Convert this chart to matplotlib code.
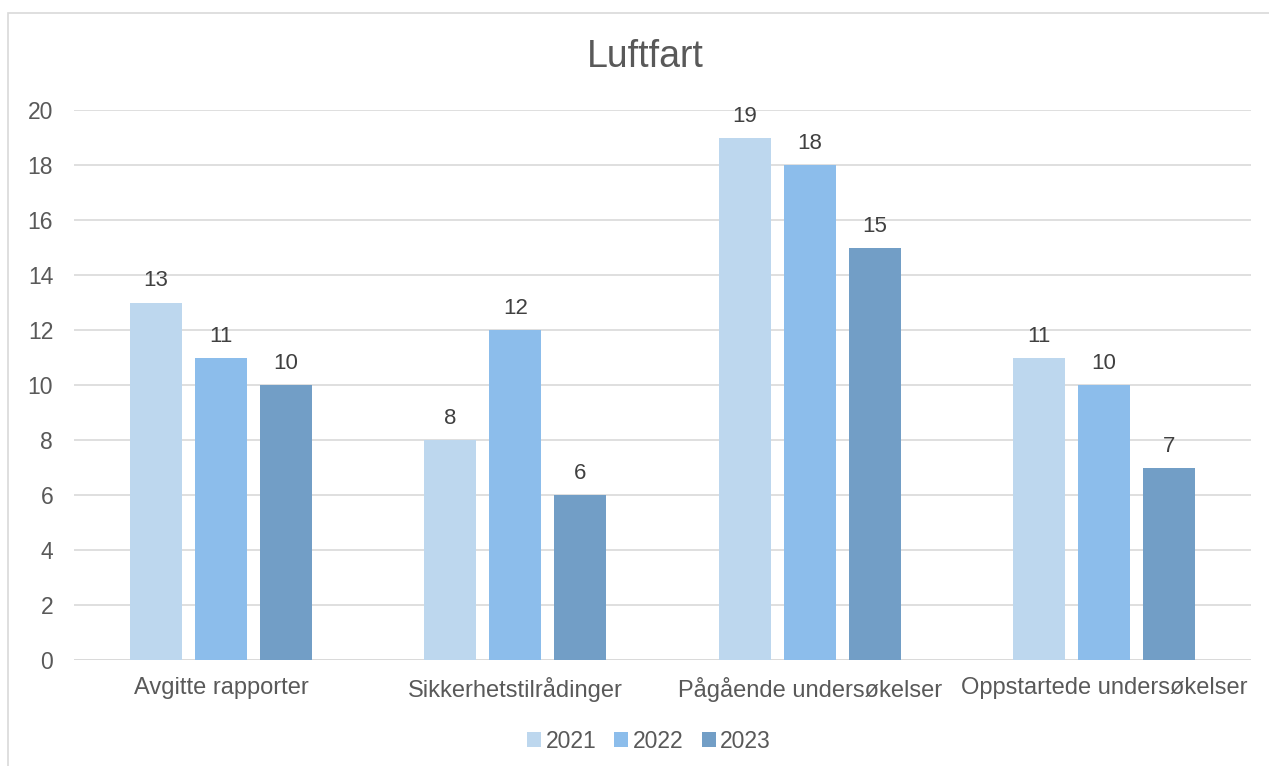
import numpy as np
import matplotlib.pyplot as plt
from matplotlib.patches import Rectangle

plt.rcParams['font.family'] = ['Liberation Sans', 'DejaVu Sans']

categories = ['Avgitte rapporter', 'Sikkerhetstilrådinger', 'Pågående undersøkelser', 'Oppstartede undersøkelser']
years = ['2021', '2022', '2023']
values = {
    '2021': [13, 8, 19, 11],
    '2022': [11, 12, 18, 10],
    '2023': [10, 6, 15, 7],
}
colors = ['#BDD7EE', '#8CBDEB', '#729EC6']

fig = plt.figure(figsize=(12.69, 7.66), dpi=100)
# outer chart border
fig.patches.append(Rectangle((8/1269, -0.01), 1.02, 1 - 13/766 + 0.01, transform=fig.transFigure,
                             fill=False, edgecolor='#D9D9D9', linewidth=1.2))
ax = fig.add_axes([74/1269, 1 - 660/766, (1251-74)/1269, 550/766])

x = np.arange(len(categories))
width = 0.177
step = 0.221
for i, yr in enumerate(years):
    pos = x + (i - 1) * step
    bars = ax.bar(pos, values[yr], width=width, color=colors[i], label=yr, zorder=3)
    for b, v in zip(bars, values[yr]):
        ax.text(b.get_x() + b.get_width()/2, v + 0.4, str(v), ha='center', va='bottom',
                fontsize=16, color='#404040')

ax.set_xlim(-0.5, 3.5)
ax.set_ylim(0, 20)
ax.set_yticks(range(0, 21, 2))
ax.grid(axis='y', color='#D9D9D9', linewidth=1.2, zorder=0)
for s in ax.spines.values():
    s.set_visible(False)
ax.axhline(0, color='#D9D9D9', linewidth=1.2, zorder=2)
ax.tick_params(axis='both', length=0, labelsize=16.5, colors='#595959')
ax.tick_params(axis='x', labelsize=17, pad=12)
ax.tick_params(axis='y', pad=15)
ax.set_xticks(x)
ax.set_xticklabels(categories)

fig.text(645/1269, 1 - 57/766, 'Luftfart', ha='center', va='center', fontsize=27, color='#595959')

ax.legend(loc='center', bbox_to_anchor=(0.4885, (660-741)/550), ncol=3, frameon=False,
          fontsize=16.5, labelcolor='#595959', handlelength=0.6, handleheight=0.6,
          handletextpad=0.2, columnspacing=0.8)

fig.savefig('out.png', dpi=100)
